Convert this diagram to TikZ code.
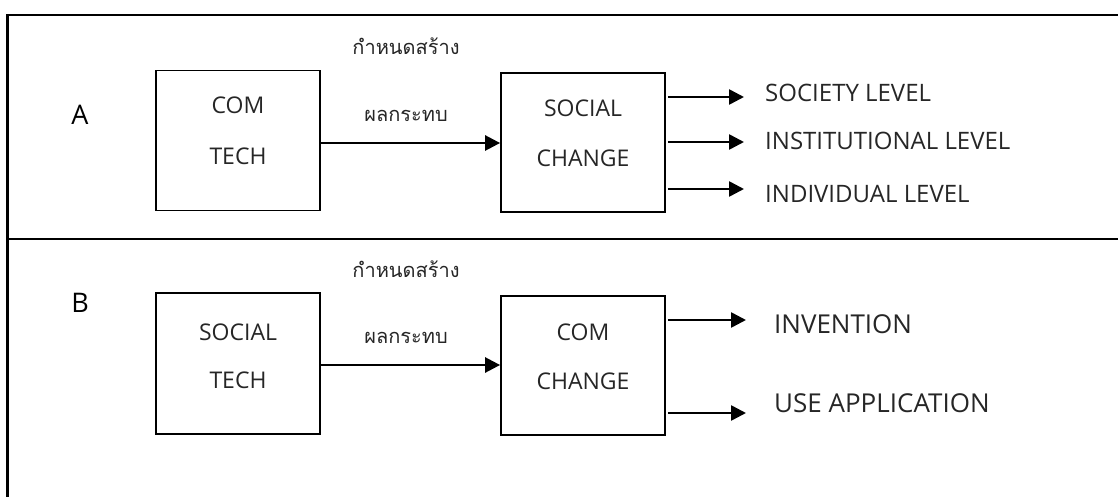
\documentclass[tikz,border=0pt]{standalone}
\usepackage{fontspec}
\setmainfont{Open Sans}
\newfontfamily\thai[Script=Thai]{Loma}
\usetikzlibrary{arrows.meta,calc}
\definecolor{txt}{HTML}{262626}
\tikzset{
  frame/.style={line width=2.4pt,black},
  box/.style={draw=black,line width=1.8pt,minimum width=164pt,minimum height=140pt,inner sep=0pt},
  btext/.style={inner sep=0pt,anchor=base,text=txt,font=\fontsize{23}{27}\selectfont},
  ltext/.style={inner sep=0pt,anchor=base west,text=txt,font=\fontsize{24}{28}\selectfont},
  lbtext/.style={inner sep=0pt,anchor=base west,text=txt,font=\fontsize{26}{30}\selectfont},
  thtext/.style={inner sep=0pt,anchor=base,text=txt,font=\thai\fontsize{20}{24}\selectfont},
  sec/.style={inner sep=0pt,anchor=base,text=black,font=\fontsize{27}{30}\selectfont},
  arr/.style={line width=2.6pt,-{Triangle[length=15pt,width=15pt]}},
}
\begin{document}
\begin{tikzpicture}[x=1pt,y=-1pt]
\useasboundingbox (0,0) rectangle (1118,497);
% frame
\draw[frame] (1120,15) -- (7.5,15) -- (7.5,500);
\draw[frame] (7.5,239) -- (1120,239);
% section A
\node[sec] (la) at (80,125) {A};
\node[box] (a1) at (238,140.5) {};
\node[btext] (a1t1) at (238,114) {COM};
\node[btext] (a1t2) at (238,165) {TECH};
\node[box,minimum height=139pt] (a2) at (583,142.5) {};
\node[btext] (a2t1) at (583,117) {SOCIAL};
\node[btext] (a2t2) at (583,167) {CHANGE};
\node[thtext] (ath1) at (406,55) {กำหนดสร้าง};
\node[thtext] (ath2) at (406,122) {ผลกระทบ};
\draw[arr] (a1.east |- 0,143) -- (a2.west |- 0,143);
\node[ltext] (o1) at (765,102) {SOCIETY LEVEL};
\node[ltext] (o2) at (765,150) {INSTITUTIONAL LEVEL};
\node[ltext] (o3) at (765,202) {INDIVIDUAL LEVEL};
\draw[arr] ([xshift=2pt]a2.east |- 0,97) -- ([xshift=-21pt]o1.west |- 0,97);
\draw[arr] ([xshift=2pt]a2.east |- 0,142) -- ([xshift=-21pt]o2.west |- 0,142);
\draw[arr] ([xshift=2pt]a2.east |- 0,189) -- ([xshift=-21pt]o3.west |- 0,189);
% section B
\node[sec] (lb) at (80,312) {B};
\node[box,minimum height=141pt] (b1) at (238,363.5) {};
\node[btext] (b1t1) at (238,340) {SOCIAL};
\node[btext] (b1t2) at (238,388) {TECH};
\node[box,minimum height=139pt] (b2) at (583,365.5) {};
\node[btext] (b2t1) at (583,340) {COM};
\node[btext] (b2t2) at (583,389) {CHANGE};
\node[thtext] (bth1) at (406,277) {กำหนดสร้าง};
\node[thtext] (bth2) at (406,343) {ผลกระทบ};
\draw[arr] (b1.east |- 0,365) -- (b2.west |- 0,365);
\node[lbtext] (p1) at (774,333) {INVENTION};
\node[lbtext] (p2) at (774,412) {USE APPLICATION};
\draw[arr] ([xshift=2pt]b2.east |- 0,320) -- ([xshift=-28pt]p1.west |- 0,320);
\draw[arr] ([xshift=2pt]b2.east |- 0,413) -- ([xshift=-28pt]p2.west |- 0,413);
\end{tikzpicture}
\end{document}
